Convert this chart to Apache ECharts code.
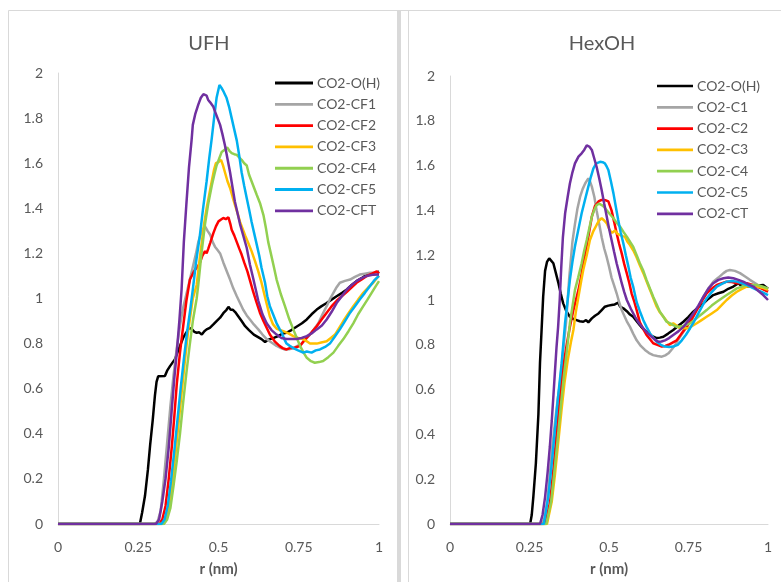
<!DOCTYPE html>
<html>
<head>
<meta charset="utf-8">
<script src="https://cdn.jsdelivr.net/npm/echarts@6/dist/echarts.min.js"></script>
<style>
  html, body { margin: 0; padding: 0; background: #ffffff; }
  #chart { width: 781px; height: 582px; }
</style>
</head>
<body>
<div id="chart"></div>
<script>
// Radial distribution functions g(r) of CO2 around solvent sites, r in nm.
// Each series is a list of [r, g(r)] points.

// --- UFH panel ---
const ufhNames = ['CO2-O(H)', 'CO2-CF1', 'CO2-CF2', 'CO2-CF3', 'CO2-CF4', 'CO2-CF5', 'CO2-CFT'];

const UFH_OH = [[0,0],[0.255,0],[0.262,0.05],[0.271,0.125],[0.28,0.24],[0.287,0.35],[0.295,0.46],[0.302,0.57],[0.307,0.63],[0.312,0.655],[0.318,0.66],[0.333,0.656],[0.34,0.68],[0.349,0.7],[0.364,0.73],[0.372,0.76],[0.38,0.79],[0.39,0.826],[0.4,0.85],[0.408,0.87],[0.416,0.865],[0.425,0.852],[0.432,0.848],[0.44,0.85],[0.448,0.84],[0.456,0.855],[0.463,0.863],[0.473,0.87],[0.484,0.885],[0.494,0.9],[0.505,0.915],[0.515,0.935],[0.525,0.95],[0.531,0.963],[0.538,0.95],[0.545,0.95],[0.552,0.94],[0.562,0.92],[0.572,0.9],[0.583,0.877],[0.595,0.86],[0.61,0.84],[0.622,0.83],[0.634,0.82],[0.645,0.807],[0.652,0.815],[0.66,0.82],[0.672,0.825],[0.686,0.833],[0.7,0.845],[0.712,0.848],[0.727,0.86],[0.743,0.875],[0.76,0.89],[0.775,0.907],[0.79,0.93],[0.806,0.951],[0.82,0.965],[0.837,0.98],[0.852,0.995],[0.868,1.01],[0.885,1.025],[0.9,1.04],[0.915,1.06],[0.93,1.077],[0.946,1.09],[0.962,1.106],[0.978,1.11],[0.993,1.114],[1,1.12]];

const UFH_CF1 = [[0,0],[0.3,0],[0.31,0.01],[0.32,0.06],[0.33,0.2],[0.34,0.36],[0.35,0.52],[0.36,0.66],[0.37,0.78],[0.38,0.88],[0.39,0.96],[0.4,1.02],[0.41,1.08],[0.42,1.14],[0.43,1.2],[0.437,1.25],[0.448,1.3],[0.458,1.32],[0.466,1.3],[0.474,1.283],[0.482,1.25],[0.489,1.23],[0.497,1.215],[0.505,1.2],[0.515,1.16],[0.526,1.12],[0.536,1.084],[0.546,1.045],[0.557,1.01],[0.567,0.98],[0.577,0.95],[0.588,0.925],[0.598,0.907],[0.61,0.885],[0.624,0.863],[0.637,0.84],[0.65,0.82],[0.665,0.805],[0.681,0.79],[0.695,0.78],[0.707,0.774],[0.72,0.775],[0.733,0.78],[0.746,0.79],[0.759,0.8],[0.772,0.82],[0.785,0.84],[0.798,0.865],[0.811,0.89],[0.824,0.93],[0.837,0.966],[0.848,1],[0.858,1.025],[0.868,1.05],[0.878,1.07],[0.894,1.078],[0.91,1.084],[0.925,1.096],[0.94,1.106],[0.956,1.11],[0.972,1.114],[0.986,1.114],[1,1.114]];

const UFH_CF2 = [[0,0],[0.315,0],[0.325,0.02],[0.335,0.08],[0.345,0.2],[0.355,0.35],[0.362,0.47],[0.37,0.62],[0.38,0.76],[0.39,0.877],[0.4,0.99],[0.411,1.084],[0.42,1.11],[0.427,1.128],[0.435,1.14],[0.442,1.158],[0.45,1.19],[0.458,1.21],[0.463,1.2],[0.468,1.22],[0.474,1.246],[0.484,1.29],[0.492,1.32],[0.5,1.342],[0.508,1.35],[0.515,1.357],[0.523,1.352],[0.531,1.36],[0.537,1.33],[0.541,1.305],[0.549,1.28],[0.557,1.25],[0.565,1.22],[0.572,1.195],[0.58,1.16],[0.59,1.12],[0.598,1.08],[0.608,1.03],[0.618,0.985],[0.629,0.937],[0.64,0.9],[0.65,0.87],[0.66,0.84],[0.675,0.81],[0.69,0.79],[0.7,0.78],[0.712,0.774],[0.722,0.78],[0.733,0.78],[0.744,0.785],[0.754,0.79],[0.765,0.81],[0.775,0.826],[0.79,0.85],[0.806,0.877],[0.82,0.905],[0.837,0.937],[0.852,0.965],[0.868,0.99],[0.884,1.01],[0.9,1.03],[0.915,1.05],[0.93,1.07],[0.946,1.085],[0.962,1.1],[0.978,1.11],[0.993,1.12],[1,1.11]];

const UFH_CF3 = [[0,0],[0.325,0],[0.335,0.02],[0.345,0.07],[0.355,0.17],[0.365,0.3],[0.375,0.44],[0.385,0.58],[0.395,0.72],[0.405,0.85],[0.415,0.95],[0.42,1],[0.432,1.06],[0.44,1.16],[0.448,1.25],[0.455,1.33],[0.463,1.4],[0.471,1.46],[0.479,1.52],[0.486,1.57],[0.492,1.6],[0.5,1.605],[0.508,1.615],[0.514,1.59],[0.52,1.56],[0.528,1.52],[0.536,1.49],[0.544,1.45],[0.551,1.416],[0.559,1.38],[0.567,1.34],[0.575,1.31],[0.583,1.28],[0.593,1.245],[0.603,1.21],[0.614,1.165],[0.624,1.12],[0.634,1.07],[0.646,1],[0.66,0.92],[0.67,0.885],[0.682,0.865],[0.702,0.855],[0.718,0.845],[0.733,0.833],[0.748,0.825],[0.764,0.82],[0.775,0.81],[0.785,0.8],[0.796,0.8],[0.806,0.8],[0.82,0.805],[0.837,0.81],[0.85,0.825],[0.863,0.84],[0.876,0.87],[0.889,0.9],[0.905,0.935],[0.92,0.966],[0.935,0.995],[0.951,1.025],[0.967,1.05],[0.982,1.07],[0.993,1.09],[1,1.1]];

const UFH_CF4 = [[0,0],[0.33,0],[0.34,0.02],[0.35,0.07],[0.36,0.17],[0.37,0.28],[0.38,0.4],[0.39,0.54],[0.4,0.67],[0.41,0.79],[0.42,0.9],[0.432,1],[0.437,1.06],[0.447,1.2],[0.458,1.33],[0.468,1.42],[0.479,1.5],[0.487,1.55],[0.494,1.59],[0.502,1.62],[0.51,1.65],[0.519,1.66],[0.527,1.67],[0.534,1.655],[0.541,1.645],[0.549,1.64],[0.557,1.637],[0.565,1.625],[0.572,1.615],[0.58,1.6],[0.588,1.59],[0.595,1.55],[0.603,1.52],[0.611,1.49],[0.619,1.46],[0.63,1.42],[0.64,1.37],[0.648,1.31],[0.655,1.25],[0.663,1.2],[0.671,1.15],[0.681,1.084],[0.694,1.02],[0.707,0.966],[0.72,0.91],[0.733,0.863],[0.744,0.825],[0.754,0.79],[0.765,0.76],[0.775,0.737],[0.788,0.722],[0.8,0.715],[0.813,0.718],[0.826,0.723],[0.842,0.74],[0.858,0.76],[0.873,0.79],[0.889,0.82],[0.905,0.855],[0.92,0.89],[0.935,0.93],[0.951,0.966],[0.964,0.995],[0.977,1.025],[0.99,1.055],[1,1.077]];

const UFH_CF5 = [[0,0],[0.322,0],[0.332,0.02],[0.342,0.08],[0.352,0.19],[0.362,0.32],[0.372,0.46],[0.382,0.6],[0.392,0.73],[0.402,0.85],[0.412,0.95],[0.42,1.04],[0.43,1.16],[0.442,1.28],[0.452,1.4],[0.463,1.52],[0.471,1.62],[0.479,1.71],[0.487,1.81],[0.494,1.89],[0.503,1.947],[0.509,1.935],[0.515,1.92],[0.52,1.905],[0.525,1.89],[0.533,1.85],[0.541,1.8],[0.549,1.75],[0.557,1.7],[0.565,1.63],[0.572,1.56],[0.58,1.5],[0.588,1.445],[0.596,1.39],[0.603,1.34],[0.611,1.29],[0.619,1.24],[0.627,1.19],[0.634,1.136],[0.645,1.07],[0.652,1.01],[0.66,0.966],[0.67,0.93],[0.681,0.89],[0.69,0.865],[0.697,0.85],[0.705,0.82],[0.712,0.8],[0.722,0.79],[0.733,0.78],[0.748,0.77],[0.764,0.76],[0.775,0.765],[0.79,0.76],[0.803,0.77],[0.816,0.774],[0.832,0.785],[0.847,0.8],[0.862,0.83],[0.878,0.863],[0.894,0.9],[0.91,0.937],[0.925,0.966],[0.94,0.996],[0.956,1.025],[0.972,1.055],[0.985,1.08],[1,1.1]];

const UFH_CFT = [[0,0],[0.305,0],[0.315,0.02],[0.325,0.1],[0.335,0.2],[0.345,0.34],[0.354,0.5],[0.362,0.64],[0.37,0.76],[0.378,0.9],[0.385,1.04],[0.392,1.25],[0.4,1.42],[0.408,1.58],[0.416,1.7],[0.42,1.77],[0.428,1.82],[0.437,1.86],[0.445,1.89],[0.453,1.906],[0.458,1.905],[0.463,1.9],[0.468,1.88],[0.474,1.87],[0.479,1.866],[0.484,1.85],[0.489,1.83],[0.497,1.8],[0.505,1.77],[0.512,1.73],[0.52,1.68],[0.528,1.62],[0.536,1.56],[0.544,1.49],[0.551,1.43],[0.559,1.38],[0.567,1.33],[0.577,1.28],[0.588,1.224],[0.598,1.15],[0.608,1.09],[0.624,0.99],[0.637,0.93],[0.65,0.89],[0.665,0.86],[0.681,0.84],[0.696,0.825],[0.712,0.82],[0.728,0.82],[0.743,0.82],[0.759,0.825],[0.775,0.833],[0.79,0.845],[0.806,0.863],[0.822,0.88],[0.837,0.907],[0.852,0.94],[0.868,0.98],[0.884,1.01],[0.9,1.04],[0.915,1.06],[0.93,1.077],[0.946,1.09],[0.962,1.1],[0.98,1.105],[1,1.106]];

// --- HexOH panel ---
const hexNames = ['CO2-O(H)', 'CO2-C1', 'CO2-C2', 'CO2-C3', 'CO2-C4', 'CO2-C5', 'CO2-CT'];

const HEX_OH = [[0,0],[0.252,0],[0.257,0.04],[0.262,0.12],[0.27,0.27],[0.278,0.49],[0.283,0.72],[0.288,0.866],[0.293,1.015],[0.299,1.13],[0.305,1.17],[0.312,1.186],[0.318,1.18],[0.325,1.164],[0.333,1.12],[0.341,1.075],[0.348,1.03],[0.356,0.985],[0.366,0.95],[0.377,0.925],[0.388,0.915],[0.398,0.91],[0.408,0.905],[0.419,0.903],[0.428,0.91],[0.435,0.9],[0.446,0.918],[0.456,0.93],[0.467,0.94],[0.477,0.955],[0.487,0.97],[0.498,0.975],[0.508,0.978],[0.518,0.98],[0.529,0.988],[0.535,0.97],[0.545,0.963],[0.556,0.95],[0.566,0.935],[0.576,0.925],[0.587,0.905],[0.597,0.888],[0.608,0.87],[0.618,0.858],[0.634,0.84],[0.65,0.83],[0.66,0.832],[0.671,0.836],[0.686,0.85],[0.702,0.866],[0.718,0.885],[0.734,0.903],[0.75,0.925],[0.765,0.948],[0.781,0.967],[0.797,0.985],[0.812,1.005],[0.828,1.022],[0.844,1.03],[0.86,1.037],[0.875,1.05],[0.891,1.06],[0.907,1.075],[0.915,1.065],[0.93,1.06],[0.954,1.06],[0.97,1.065],[0.985,1.067],[1,1.05]];

const HEX_C1 = [[0,0],[0.29,0],[0.298,0.03],[0.306,0.1],[0.314,0.22],[0.322,0.35],[0.33,0.45],[0.338,0.55],[0.345,0.62],[0.355,0.76],[0.365,0.9],[0.375,1.1],[0.385,1.26],[0.393,1.34],[0.401,1.41],[0.409,1.46],[0.417,1.495],[0.425,1.52],[0.435,1.543],[0.44,1.53],[0.446,1.506],[0.454,1.46],[0.461,1.4],[0.469,1.34],[0.477,1.28],[0.485,1.23],[0.493,1.19],[0.5,1.15],[0.508,1.1],[0.516,1.065],[0.524,1.03],[0.532,0.99],[0.54,0.955],[0.548,0.93],[0.556,0.905],[0.566,0.88],[0.576,0.85],[0.587,0.82],[0.6,0.795],[0.613,0.777],[0.626,0.763],[0.639,0.754],[0.652,0.75],[0.666,0.747],[0.677,0.753],[0.687,0.762],[0.698,0.78],[0.708,0.8],[0.721,0.83],[0.734,0.858],[0.75,0.89],[0.765,0.925],[0.781,0.97],[0.797,1.015],[0.812,1.05],[0.828,1.082],[0.844,1.1],[0.86,1.12],[0.87,1.13],[0.88,1.134],[0.896,1.13],[0.912,1.12],[0.928,1.105],[0.943,1.09],[0.96,1.075],[0.975,1.06],[0.99,1.045],[1,1.037]];

const HEX_C2 = [[0,0],[0.3,0],[0.315,0.1],[0.325,0.24],[0.335,0.4],[0.345,0.55],[0.356,0.7],[0.367,0.8],[0.377,0.88],[0.388,0.955],[0.396,1],[0.404,1.045],[0.412,1.1],[0.419,1.164],[0.427,1.22],[0.435,1.283],[0.446,1.372],[0.456,1.42],[0.467,1.44],[0.475,1.446],[0.482,1.446],[0.49,1.445],[0.498,1.44],[0.508,1.4],[0.516,1.35],[0.524,1.298],[0.532,1.25],[0.54,1.208],[0.548,1.16],[0.556,1.119],[0.564,1.075],[0.571,1.03],[0.58,0.99],[0.587,0.955],[0.597,0.9],[0.608,0.87],[0.618,0.844],[0.629,0.825],[0.639,0.807],[0.652,0.8],[0.666,0.792],[0.677,0.795],[0.687,0.8],[0.7,0.81],[0.713,0.82],[0.728,0.85],[0.744,0.88],[0.76,0.915],[0.776,0.955],[0.792,0.995],[0.807,1.03],[0.823,1.05],[0.839,1.067],[0.855,1.075],[0.87,1.082],[0.886,1.08],[0.902,1.075],[0.918,1.075],[0.933,1.075],[0.95,1.068],[0.965,1.06],[0.982,1.05],[1,1.037]];

const HEX_C3 = [[0,0],[0.305,0],[0.32,0.1],[0.33,0.22],[0.34,0.36],[0.35,0.5],[0.36,0.63],[0.37,0.73],[0.38,0.81],[0.388,0.866],[0.396,0.95],[0.404,1.015],[0.412,1.08],[0.419,1.134],[0.43,1.2],[0.44,1.268],[0.45,1.305],[0.461,1.335],[0.469,1.355],[0.477,1.365],[0.485,1.355],[0.493,1.342],[0.503,1.31],[0.51,1.3],[0.519,1.31],[0.527,1.295],[0.535,1.29],[0.543,1.285],[0.55,1.283],[0.558,1.26],[0.566,1.245],[0.577,1.22],[0.587,1.19],[0.597,1.155],[0.608,1.12],[0.619,1.08],[0.629,1.045],[0.64,1.005],[0.65,0.97],[0.66,0.945],[0.671,0.925],[0.682,0.905],[0.692,0.888],[0.702,0.896],[0.713,0.885],[0.723,0.874],[0.737,0.874],[0.75,0.874],[0.763,0.885],[0.776,0.896],[0.791,0.91],[0.807,0.925],[0.823,0.94],[0.839,0.955],[0.855,0.978],[0.87,1],[0.886,1.02],[0.902,1.037],[0.918,1.05],[0.933,1.06],[0.95,1.06],[0.965,1.06],[0.982,1.055],[1,1.045]];

const HEX_C4 = [[0,0],[0.303,0],[0.318,0.1],[0.328,0.23],[0.338,0.37],[0.348,0.52],[0.358,0.66],[0.368,0.78],[0.377,0.896],[0.385,0.97],[0.393,1.045],[0.403,1.1],[0.414,1.164],[0.422,1.22],[0.43,1.268],[0.438,1.32],[0.446,1.372],[0.453,1.4],[0.461,1.424],[0.469,1.43],[0.477,1.424],[0.485,1.415],[0.493,1.4],[0.503,1.383],[0.514,1.365],[0.524,1.345],[0.535,1.327],[0.545,1.305],[0.556,1.283],[0.566,1.26],[0.576,1.238],[0.587,1.2],[0.597,1.164],[0.608,1.13],[0.618,1.09],[0.629,1.05],[0.639,1.015],[0.65,0.98],[0.66,0.948],[0.671,0.925],[0.681,0.903],[0.692,0.896],[0.702,0.888],[0.713,0.88],[0.723,0.882],[0.734,0.884],[0.745,0.89],[0.755,0.896],[0.768,0.91],[0.781,0.925],[0.794,0.94],[0.807,0.955],[0.823,0.975],[0.839,0.992],[0.855,1.008],[0.87,1.022],[0.886,1.037],[0.902,1.052],[0.918,1.06],[0.933,1.067],[0.95,1.067],[0.965,1.067],[0.982,1.06],[1,1.052]];

const HEX_C5 = [[0,0],[0.295,0],[0.309,0.12],[0.32,0.27],[0.33,0.42],[0.34,0.57],[0.351,0.717],[0.356,0.8],[0.362,0.9],[0.37,1],[0.377,1.09],[0.385,1.17],[0.393,1.24],[0.403,1.31],[0.414,1.387],[0.425,1.45],[0.435,1.506],[0.443,1.55],[0.451,1.588],[0.46,1.61],[0.472,1.617],[0.48,1.615],[0.487,1.61],[0.493,1.595],[0.498,1.58],[0.506,1.53],[0.514,1.476],[0.521,1.42],[0.529,1.357],[0.537,1.3],[0.545,1.253],[0.553,1.2],[0.561,1.149],[0.568,1.1],[0.576,1.06],[0.587,0.99],[0.597,0.95],[0.608,0.91],[0.618,0.88],[0.629,0.851],[0.64,0.83],[0.65,0.814],[0.663,0.8],[0.676,0.792],[0.69,0.79],[0.702,0.792],[0.716,0.8],[0.729,0.82],[0.742,0.845],[0.755,0.874],[0.768,0.905],[0.781,0.94],[0.794,0.975],[0.807,1.007],[0.823,1.035],[0.839,1.06],[0.855,1.072],[0.87,1.082],[0.886,1.085],[0.902,1.082],[0.918,1.075],[0.933,1.067],[0.95,1.055],[0.965,1.045],[0.982,1.035],[1,1.022]];

const HEX_CT = [[0,0],[0.283,0],[0.291,0.04],[0.299,0.12],[0.307,0.23],[0.314,0.345],[0.32,0.46],[0.325,0.568],[0.33,0.68],[0.335,0.79],[0.34,0.88],[0.345,1],[0.35,1.15],[0.355,1.28],[0.362,1.387],[0.37,1.46],[0.377,1.52],[0.385,1.57],[0.393,1.61],[0.404,1.64],[0.414,1.655],[0.422,1.67],[0.43,1.69],[0.438,1.685],[0.446,1.67],[0.453,1.635],[0.461,1.595],[0.469,1.545],[0.477,1.49],[0.485,1.43],[0.493,1.372],[0.5,1.32],[0.508,1.268],[0.516,1.215],[0.524,1.164],[0.532,1.12],[0.54,1.075],[0.548,1.035],[0.556,1],[0.569,0.96],[0.582,0.925],[0.595,0.895],[0.608,0.874],[0.621,0.852],[0.634,0.836],[0.645,0.822],[0.655,0.814],[0.665,0.815],[0.676,0.82],[0.689,0.83],[0.702,0.844],[0.718,0.86],[0.734,0.88],[0.75,0.91],[0.765,0.94],[0.781,0.975],[0.797,1.015],[0.812,1.05],[0.828,1.075],[0.844,1.09],[0.86,1.097],[0.875,1.1],[0.891,1.097],[0.907,1.09],[0.922,1.082],[0.938,1.07],[0.954,1.06],[0.97,1.04],[0.985,1.022],[1,1]];

// x ticks (nm) and y ticks
const xTicks = [0, 0.25, 0.5, 0.75, 1];
const yTicks = [0, 0.2, 0.4, 0.6, 0.8, 1, 1.2, 1.4, 1.6, 1.8, 2];

const ufhData = [UFH_OH, UFH_CF1, UFH_CF2, UFH_CF3, UFH_CF4, UFH_CF5, UFH_CFT];
const hexData = [HEX_OH, HEX_C1, HEX_C2, HEX_C3, HEX_C4, HEX_C5, HEX_CT];

const palette = ['#000000', '#a5a5a5', '#ff0000', '#ffc000', '#92d050', '#00b0f0', '#7030a0'];
const FONT = 'Lato, "Open Sans", sans-serif';
const TEXT = '#595959';
const RULE = '#d9d9d9';
// plain line swatch for the legend (no marker)
const LINE_ICON = 'path://M0,0H40V3H0Z';

function xAxisFor(gridIndex) {
  return {
    type: 'value', gridIndex,
    min: xTicks[0], max: xTicks[xTicks.length - 1], interval: 0.25,
    name: 'r (nm)', nameLocation: 'middle', nameGap: 38,
    nameTextStyle: { color: TEXT, fontFamily: FONT, fontSize: 15, fontWeight: 'bold' },
    axisLine: { show: true, lineStyle: { color: RULE, width: 1 } },
    axisTick: { show: false },
    splitLine: { show: false },
    axisLabel: { color: TEXT, fontFamily: FONT, fontSize: 14, margin: 16,
      formatter: v => String(+v.toFixed(2)) }
  };
}
function yAxisFor(gridIndex) {
  return {
    type: 'value', gridIndex,
    min: yTicks[0], max: yTicks[yTicks.length - 1], interval: 0.2,
    axisLine: { show: true, lineStyle: { color: RULE, width: 1 } },
    axisTick: { show: false },
    splitLine: { show: false },
    axisLabel: { color: TEXT, fontFamily: FONT, fontSize: 14, margin: 15,
      formatter: v => String(+v.toFixed(1)) }
  };
}
function seriesFor(names, data, idx) {
  return names.map((n, i) => ({
    type: 'line', name: n, data: data[i],
    xAxisIndex: idx, yAxisIndex: idx,
    showSymbol: false, symbol: 'none',
    lineStyle: { color: palette[i], width: 2.5 },
    itemStyle: { color: palette[i] },
    emphasis: { disabled: true },
    animation: false
  }));
}
function legendFor(names, left, top, width) {
  return {
    data: names.map(n => ({ name: n, icon: LINE_ICON })),
    orient: 'vertical', left, top, padding: 0,
    itemWidth: width, itemHeight: 14, itemGap: 7.3,
    textStyle: { color: TEXT, fontFamily: FONT, fontSize: 14, padding: [0, 0, 0, -1] },
    selectedMode: false
  };
}

const chart = echarts.init(document.getElementById('chart'), null, { renderer: 'canvas' });
chart.setOption({
  backgroundColor: '#ffffff',
  animation: false,
  graphic: [
    { type: 'rect', shape: { x: 8.5, y: 10.5, width: 400, height: 600 },
      style: { fill: 'none', stroke: RULE, lineWidth: 1 }, silent: true, z: -10 },
    { type: 'rect', shape: { x: 400.5, y: 10.5, width: 400, height: 600 },
      style: { fill: 'none', stroke: RULE, lineWidth: 1 }, silent: true, z: -10 },
    { type: 'rect', shape: { x: 397, y: 10, width: 4, height: 600 },
      style: { fill: RULE }, silent: true, z: -9 }
  ],
  title: [
    { text: 'UFH', left: 204, top: 29, textAlign: 'center',
      textStyle: { color: TEXT, fontFamily: FONT, fontSize: 20, fontWeight: 'normal' } },
    { text: 'HexOH', left: 597, top: 29, textAlign: 'center',
      textStyle: { color: TEXT, fontFamily: FONT, fontSize: 20, fontWeight: 'normal' } }
  ],
  legend: [
    legendFor(ufhNames, 275, 76, 38),
    legendFor(hexNames, 657, 79, 36)
  ],
  grid: [
    { left: 58, top: 73, width: 321, height: 452 },
    { left: 450, top: 76, width: 318, height: 448 }
  ],
  xAxis: [xAxisFor(0), xAxisFor(1)],
  yAxis: [yAxisFor(0), yAxisFor(1)],
  series: [...seriesFor(ufhNames, ufhData, 0), ...seriesFor(hexNames, hexData, 1)]
});
</script>
</body>
</html>
